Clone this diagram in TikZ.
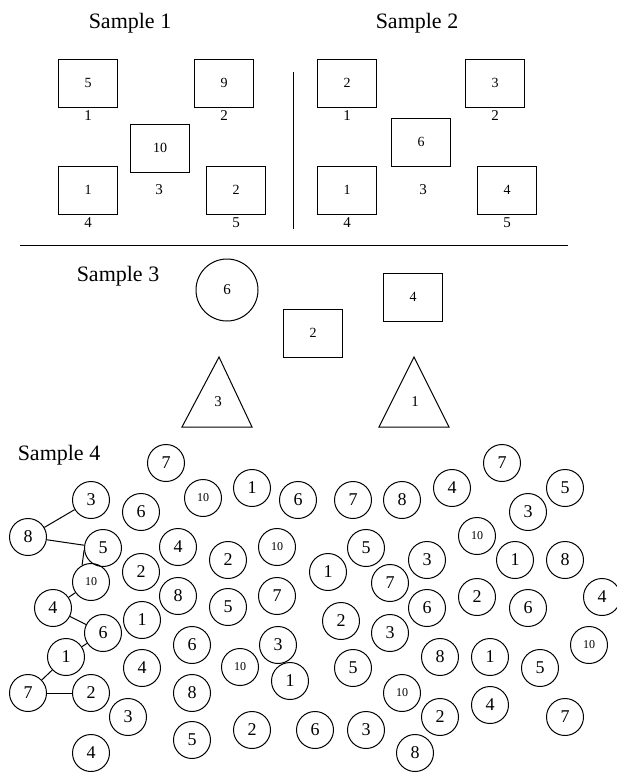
\documentclass[tikz,border=0pt]{standalone}
\usepackage{fontspec}
\setmainfont{Liberation Serif}
\usetikzlibrary{positioning}

\begin{document}
\begin{tikzpicture}[x=1pt, y=-1pt, line width=1pt, node distance=2pt,
  title/.style={font=\fontsize{22}{24}\selectfont, inner sep=0pt},
  box/.style={draw, minimum width=59pt, minimum height=48pt, inner sep=0pt,
              font=\fontsize{14}{16}\selectfont},
  tag/.style={inner sep=1pt, font=\fontsize{15}{17}\selectfont},
  ring/.style={draw, circle, minimum size=62pt, inner sep=0pt,
               font=\fontsize{15}{17}\selectfont},
  ball/.style={draw, circle, minimum size=37pt, inner sep=0pt,
               font=\fontsize{18}{20}\selectfont},
  ballx/.style={ball, font=\fontsize{12}{14}\selectfont}]
\useasboundingbox (0,0) rectangle (617,772);

% Sample 1
\node[title] (t1) at (130,23) {Sample 1};
\node[box] (s1a) at (88,83) {5};
\node[tag, below=of s1a] (s1a-n) {1};
\node[box] (s1b) at (224,83) {9};
\node[tag, below=of s1b] (s1b-n) {2};
\node[box] (s1c) at (160,148) {10};
\node[tag] (s1c-n) at (159,190) {3};
\node[box] (s1d) at (88,190) {1};
\node[tag, below=of s1d] (s1d-n) {4};
\node[box] (s1e) at (236,190) {2};
\node[tag, below=of s1e] (s1e-n) {5};

% Sample 2
\node[title] (t2) at (417,23) {Sample 2};
\node[box] (s2a) at (347,83) {2};
\node[tag, below=of s2a] (s2a-n) {1};
\node[box] (s2b) at (495,83) {3};
\node[tag, below=of s2b] (s2b-n) {2};
\node[box] (s2c) at (421,142) {6};
\node[tag] (s2c-n) at (423,190) {3};
\node[box] (s2d) at (347,190) {1};
\node[tag, below=of s2d] (s2d-n) {4};
\node[box] (s2e) at (507,190) {4};
\node[tag, below=of s2e] (s2e-n) {5};

\draw (293,72) -- (293,229);
\draw (20,245) -- (568,245);

% Sample 3
\node[title] (t3) at (118,276) {Sample 3};
\node[ring] (s3a) at (227,290) {6};
\node[box] (s3b) at (313,333) {2};
\node[box] (s3c) at (413,297) {4};
\node[tag] (s3d) at (218,402) {3};
\draw (219,357) -- (182,427) -- (252,427) -- cycle;
\node[tag] (s3e) at (415,402) {1};
\draw (414,357) -- (379,427) -- (449,427) -- cycle;

% Sample 4
\node[title] (t4) at (59,455) {Sample 4};
\node[ball] (n1) at (166,463) {7};   \node[ball] (n2) at (502,463) {7};   \node[ball] (n3) at (252,488) {1};
\node[ball] (n4) at (452,488) {4};   \node[ball] (n5) at (565,488) {5};   \node[ball] (n6) at (91,500) {3};
\node[ballx] (n7) at (203,498) {10}; \node[ball] (n8) at (298,500) {6};   \node[ball] (n9) at (353,500) {7};
\node[ball] (n10) at (402,500) {8};  \node[ball] (n11) at (141,512) {6};  \node[ball] (n12) at (528,512) {3};
\node[ballx] (n13) at (477,536) {10};\node[ball] (n14) at (28,537) {8};   \node[ball] (n15) at (103,548) {5};
\node[ball] (n16) at (178,547) {4};  \node[ballx] (n17) at (277,547) {10};\node[ball] (n18) at (366,548) {5};
\node[ball] (n19) at (228,560) {2};  \node[ball] (n20) at (427,560) {3};  \node[ball] (n21) at (515,560) {1};
\node[ball] (n22) at (565,560) {8};  \node[ball] (n23) at (141,572) {2};  \node[ball] (n24) at (328,572) {1};
\node[ballx] (n25) at (91,582) {10}; \node[ball] (n26) at (390,583) {7};  \node[ball] (n27) at (178,596) {8};
\node[ball] (n28) at (277,596) {7};  \node[ball] (n29) at (477,597) {2};  \node[ball] (n30) at (602,597) {4};
\node[ball] (n31) at (53,608) {4};   \node[ball] (n32) at (228,607) {5};  \node[ball] (n33) at (427,608) {6};
\node[ball] (n34) at (528,608) {6};  \node[ball] (n35) at (142,620) {1};  \node[ball] (n36) at (341,621) {2};
\node[ball] (n37) at (103,633) {6};  \node[ball] (n38) at (390,633) {3};  \node[ball] (n39) at (192,645) {6};
\node[ball] (n40) at (278,645) {3};  \node[ballx] (n41) at (589,645) {10};\node[ball] (n42) at (66,657) {1};
\node[ball] (n43) at (440,657) {8};  \node[ball] (n44) at (490,657) {1};  \node[ball] (n45) at (142,668) {4};
\node[ballx] (n46) at (240,667) {10};\node[ball] (n47) at (353,668) {5};  \node[ball] (n48) at (540,668) {5};
\node[ball] (n49) at (290,681) {1};  \node[ball] (n50) at (28,693) {7};   \node[ball] (n51) at (91,693) {2};
\node[ball] (n52) at (192,693) {8};  \node[ballx] (n53) at (402,693) {10};\node[ball] (n54) at (490,705) {4};
\node[ball] (n55) at (128,717) {3};  \node[ball] (n56) at (440,717) {2};  \node[ball] (n57) at (565,717) {7};
\node[ball] (n58) at (252,730) {2};  \node[ball] (n59) at (315,730) {6};  \node[ball] (n60) at (366,730) {3};
\node[ball] (n61) at (192,740) {5};  \node[ball] (n62) at (91,753) {4};   \node[ball] (n63) at (415,753) {8};

\draw (n14) -- (n6);
\draw (n14) -- (n15);
\draw (n15.186) -- (n25.118);
\draw (n25) -- (n31);
\draw (n31) -- (n37);
\draw (n37) -- (n42);
\draw (n42) -- (n50);
\draw (n50) -- (n51);
\end{tikzpicture}
\end{document}
